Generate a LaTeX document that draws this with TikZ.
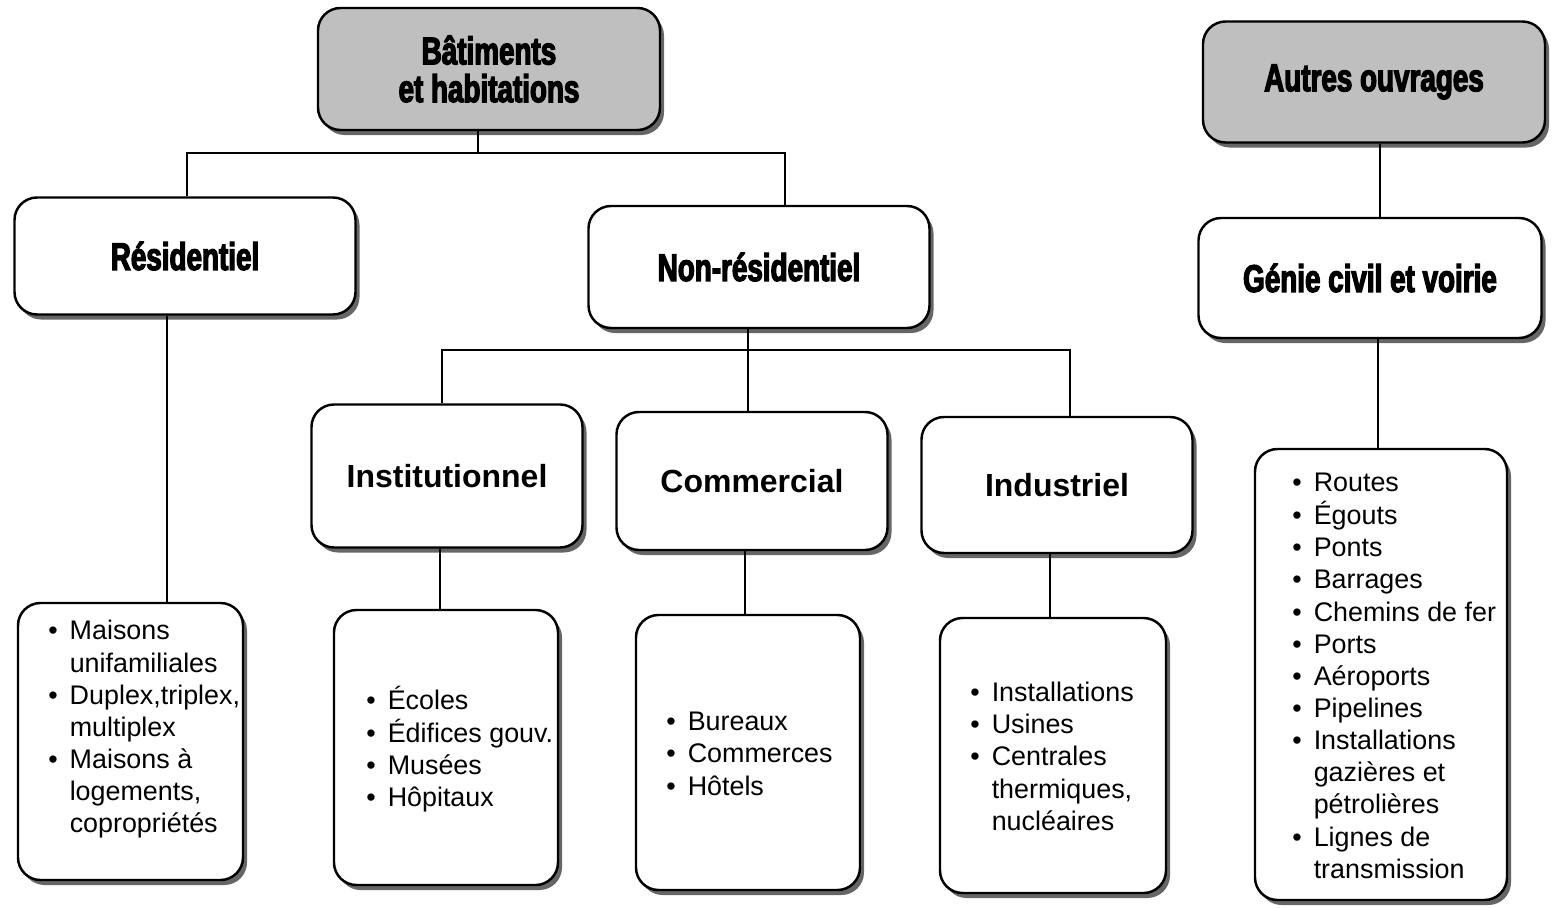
\documentclass[tikz,border=0pt]{standalone}
\usepackage{fontspec}
\setmainfont{Liberation Sans}
\newfontfamily\headfont[FakeStretch=0.72,BoldFeatures={FakeBold=3.2}]{Liberation Sans}
\usetikzlibrary{shadows}
\newcommand\bul{\textbullet}
\begin{document}
\begin{tikzpicture}[x=0.02cm,y=-0.02cm,
  box/.style={draw=black, line width=1.4pt, rounded corners=0.45cm, fill=white,
    drop shadow={shadow xshift=0.08cm, shadow yshift=-0.1cm, fill=black!60, opacity=1},
    inner sep=0pt, align=center},
  topbox/.style={box, fill=black!25},
  head/.style={font=\headfont\bfseries\fontsize{22}{23}\selectfont},
  mid/.style={font=\bfseries\fontsize{18.2}{21}\selectfont},
  lst/.style={inner sep=0pt, anchor=west, font=\fontsize{15.3}{18.3}\selectfont},
  conn/.style={line width=1.1pt}]
\useasboundingbox (0,0) rectangle (1556,907);

% top level boxes
\node[topbox, minimum width=342*0.02cm, minimum height=122*0.02cm, font=\headfont\bfseries\fontsize{22}{21.5}\selectfont] (bat) at (489,69) {Bâtiments\\et habitations};
\node[topbox, head, minimum width=342*0.02cm, minimum height=121*0.02cm] (aut) at (1374,82) {Autres ouvrages};

% second level
\node[box, head, minimum width=341*0.02cm, minimum height=117*0.02cm] (res) at (185,256) {Résidentiel};
\node[box, head, minimum width=341*0.02cm, minimum height=122*0.02cm] (non) at (759,267) {Non-résidentiel};
\node[box, head, minimum width=343*0.02cm, minimum height=120*0.02cm] (gen) at (1370,278) {Génie civil et voirie};

% third level
\node[box, mid, minimum width=271*0.02cm, minimum height=143*0.02cm] (ins) at (447,476) {Institutionnel};
\node[box, mid, minimum width=271*0.02cm, minimum height=138*0.02cm] (com) at (752,481) {Commercial};
\node[box, mid, minimum width=271*0.02cm, minimum height=136*0.02cm] (ind) at (1057,485) {Industriel};

% list boxes
\node[box, minimum width=225*0.02cm, minimum height=277*0.02cm] (resl) at (130.5,741.5) {};
\node[box, minimum width=224*0.02cm, minimum height=275*0.02cm] (insl) at (446,747.5) {};
\node[box, minimum width=224*0.02cm, minimum height=275*0.02cm] (coml) at (748,752.5) {};
\node[box, minimum width=226*0.02cm, minimum height=275*0.02cm] (indl) at (1053,755.5) {};
\node[box, minimum width=252*0.02cm, minimum height=451*0.02cm] (genl) at (1381,674.5) {};

% list texts
\node[lst] (rest) at (48,730) {\begin{tabular}{@{}l@{\hspace{0.24cm}}l@{}}
\bul & Maisons\\ & unifamiliales\\ \bul & Duplex,triplex,\\ & multiplex\\ \bul & Maisons à\\ & logements,\\ & copropriétés\end{tabular}};
\node[lst] (inst) at (366,751) {\begin{tabular}{@{}l@{\hspace{0.24cm}}l@{}}
\bul & Écoles\\ \bul & Édifices gouv.\\ \bul & Musées\\ \bul & Hôpitaux\end{tabular}};
\node[lst] (comt) at (666,756.5) {\begin{tabular}{@{}l@{\hspace{0.24cm}}l@{}}
\bul & Bureaux\\ \bul & Commerces\\ \bul & Hôtels\end{tabular}};
\node[lst] (indt) at (970,759.5) {\begin{tabular}{@{}l@{\hspace{0.24cm}}l@{}}
\bul & Installations\\ \bul & Usines\\ \bul & Centrales\\ & thermiques,\\ & nucléaires\end{tabular}};
\node[lst] (gent) at (1292,678.5) {\begin{tabular}{@{}l@{\hspace{0.24cm}}l@{}}
\bul & Routes\\ \bul & Égouts\\ \bul & Ponts\\ \bul & Barrages\\ \bul & Chemins de fer\\ \bul & Ports\\ \bul & Aéroports\\ \bul & Pipelines\\ \bul & Installations\\ & gazières et\\ & pétrolières\\ \bul & Lignes de\\ & transmission\end{tabular}};

% junctions
\coordinate (j1) at (478,153);
\coordinate (j2) at (748,350);

% connectors
\draw[conn] (j1 |- bat.south) -- (j1);
\draw[conn] (187,0 |- res.north) |- (j1) -| (785,0 |- non.north);
\draw[conn] (167,0 |- res.south) -- (167,0 |- resl.north);
\draw[conn] (j2 |- non.south) -- (j2);
\draw[conn] (442,0 |- ins.north) |- (j2) -| (1070,0 |- ind.north);
\draw[conn] (j2) -- (748,0 |- com.north);
\draw[conn] (440,0 |- ins.south) -- (440,0 |- insl.north);
\draw[conn] (745,0 |- com.south) -- (745,0 |- coml.north);
\draw[conn] (1050,0 |- ind.south) -- (1050,0 |- indl.north);
\draw[conn] (1380,0 |- aut.south) -- (1380,0 |- gen.north);
\draw[conn] (1378,0 |- gen.south) -- (1378,0 |- genl.north);
\end{tikzpicture}
\end{document}
